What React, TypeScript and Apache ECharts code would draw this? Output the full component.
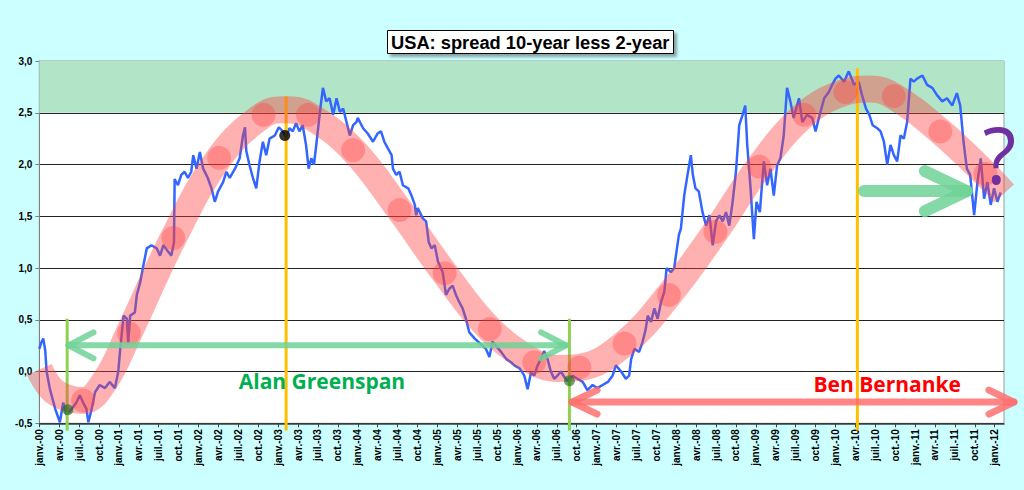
import React, { useEffect, useRef } from "react";
import * as echarts from "echarts";

// Quarterly tick labels (month index 0 = janv. 2000, step 3 months)
const tickLabels = [
  "janv.-00", "avr.-00", "juil.-00", "oct.-00",
  "janv.-01", "avr.-01", "juil.-01", "oct.-01",
  "janv.-02", "avr.-02", "juil.-02", "oct.-02",
  "janv.-03", "avr.-03", "juil.-03", "oct.-03",
  "janv.-04", "avr.-04", "juil.-04", "oct.-04",
  "janv.-05", "avr.-05", "juil.-05", "oct.-05",
  "janv.-06", "avr.-06", "juil.-06", "oct.-06",
  "janv.-07", "avr.-07", "juil.-07", "oct.-07",
  "janv.-08", "avr.-08", "juil.-08", "oct.-08",
  "janv.-09", "avr.-09", "juil.-09", "oct.-09",
  "janv.-10", "avr.-10", "juil.-10", "oct.-10",
  "janv.-11", "avr.-11", "juil.-11", "oct.-11",
  "janv.-12",
];

// 10y - 2y spread (month index since janv. 2000, value in %)
const spreadMonths = [
  0, 0.3, 0.6, 0.9, 1.1, 1.6, 2.4, 3.1, 3.6, 4.1, 4.9, 5.6, 6.1, 6.6, 7.1, 7.4, 7.9, 8.4, 9.1, 9.9,
  10.6, 11.4, 11.9, 12.2, 12.7, 13.2, 13.4, 13.7, 14.4, 14.7, 15.2, 15.7, 16.2, 16.9, 17.7, 18.2, 18.7, 19.4, 19.9, 20.3,
  20.4, 20.9, 21.4, 21.9, 22.4, 22.9, 23.2, 23.7, 24.2, 24.7, 25.4, 25.95, 26.45, 26.95, 27.7, 28.2, 28.7, 29.5, 30.2, 30.7,
  31.0, 31.2, 31.7, 32.2, 32.7, 33.2, 33.7, 34.2, 34.7, 35.5, 36.1, 36.7, 37.2, 37.7, 38.2, 38.7, 39.2, 39.7, 40.2, 40.6,
  41.0, 41.4, 41.8, 42.3, 42.75, 43.25, 43.75, 44.3, 44.8, 45.3, 45.8, 46.3, 46.8, 47.3, 47.8, 48.0, 48.8, 49.5, 50.3, 51.0,
  51.5, 52.0, 52.5, 53.1, 53.3, 53.8, 54.3, 54.8, 55.6, 56.1, 56.6, 56.8, 57.05, 57.8, 58.3, 58.7, 59.1, 59.6, 60.1, 60.8,
  61.3, 61.8, 62.3, 62.8, 63.3, 63.8, 64.3, 64.8, 65.6, 66.1, 66.8, 67.3, 67.85, 68.3, 68.8, 69.6, 70.4, 71.1, 71.6, 72.4,
  73.1, 73.6, 74.1, 74.6, 75.1, 75.6, 76.1, 76.6, 77.1, 77.6, 78.1, 78.6, 79.1, 79.6, 80.4, 81.1, 81.9, 82.6, 83.4, 84.1,
  84.9, 85.7, 86.4, 86.9, 87.7, 88.4, 88.9, 89.2, 89.7, 90.4, 90.9, 91.4, 91.7, 92.2, 92.7, 93.2, 93.7, 94.2, 94.55, 95.2,
  95.7, 95.95, 96.4, 96.7, 97.2, 97.7, 98.2, 98.5, 98.9, 99.4, 99.96, 100.5, 101.0, 101.5, 102.0, 102.5, 103.0, 103.5, 104.0, 104.5,
  105.0, 105.5, 106.0, 106.4, 106.7, 107.2, 107.7, 108.1, 108.6, 109.2, 109.7, 110.2, 110.7, 111.2, 111.7, 112.2, 112.7, 113.2, 113.7, 114.5,
  115.0, 115.7, 116.5, 117.0, 117.5, 118.3, 119.0, 119.5, 120.0, 120.5, 121.3, 122.0, 122.8, 123.5, 124.0, 124.6, 125.1, 125.6, 126.3, 126.8,
  127.3, 127.8, 128.3, 128.8, 129.3, 129.8, 130.3, 130.8, 131.3, 131.8, 132.3, 133.1, 133.8, 134.6, 135.3, 136.1, 136.8, 137.6, 138.3, 138.8,
  139.3, 139.8, 140.3, 140.9, 141.4, 141.9, 142.4, 142.9, 143.4, 143.9, 144.4, 144.9,
];
const spreadValues = [
  0.22, 0.28, 0.32, 0.2, 0.0, -0.17, -0.36, -0.49, -0.3, -0.42, -0.36, -0.3, -0.23, -0.3, -0.36, -0.49, -0.36, -0.2, -0.13, -0.16,
  -0.1, -0.16, 0.0, 0.22, 0.54, 0.51, 0.28, 0.54, 0.57, 0.74, 0.86, 1.03, 1.19, 1.22, 1.19, 1.12, 1.22, 1.16, 1.12, 1.25,
  1.86, 1.8, 1.9, 1.93, 1.87, 1.93, 2.09, 1.96, 2.12, 1.96, 1.87, 1.77, 1.64, 1.74, 1.83, 1.93, 1.87, 1.96, 2.06, 2.28,
  2.36, 2.13, 1.99, 1.87, 1.77, 2.03, 2.22, 2.09, 2.25, 2.28, 2.36, 2.32, 2.27, 2.35, 2.32, 2.4, 2.32, 2.38, 2.19, 1.96,
  2.06, 2.0, 2.22, 2.51, 2.74, 2.61, 2.64, 2.48, 2.64, 2.51, 2.54, 2.41, 2.28, 2.38, 2.41, 2.45, 2.35, 2.3, 2.22, 2.3,
  2.32, 2.22, 2.16, 2.09, 1.96, 1.9, 1.93, 1.8, 1.77, 1.7, 1.61, 1.51, 1.58, 1.48, 1.45, 1.25, 1.19, 1.22, 1.06, 0.96,
  0.74, 0.8, 0.83, 0.74, 0.67, 0.61, 0.51, 0.38, 0.32, 0.29, 0.25, 0.22, 0.14, 0.29, 0.25, 0.19, 0.12, 0.09, 0.06, 0.03,
  -0.04, -0.17, -0.01, -0.04, 0.06, 0.12, 0.2, 0.12, 0.0, -0.07, -0.04, 0.0, -0.05, -0.09, -0.04, -0.07, -0.1, -0.18, -0.13, -0.16,
  -0.13, -0.1, -0.04, 0.06, 0.0, -0.07, -0.04, 0.12, 0.22, 0.19, 0.28, 0.41, 0.54, 0.48, 0.61, 0.51, 0.67, 0.77, 1.0, 0.96,
  1.0, 1.12, 1.32, 1.38, 1.7, 1.9, 2.09, 1.9, 1.77, 1.74, 1.54, 1.41, 1.51, 1.22, 1.45, 1.51, 1.45, 1.54, 1.41, 1.64,
  1.93, 2.38, 2.48, 2.57, 2.19, 1.77, 1.28, 1.64, 1.54, 2.03, 1.8, 1.96, 1.7, 1.99, 2.06, 2.28, 2.74, 2.61, 2.45, 2.64,
  2.41, 2.48, 2.45, 2.32, 2.45, 2.64, 2.7, 2.77, 2.83, 2.86, 2.8, 2.9, 2.77, 2.8, 2.67, 2.54, 2.48, 2.38, 2.35, 2.32,
  2.22, 2.0, 2.19, 2.09, 2.03, 2.28, 2.25, 2.41, 2.83, 2.8, 2.83, 2.86, 2.77, 2.74, 2.67, 2.61, 2.64, 2.57, 2.69, 2.57,
  2.22, 1.96, 1.9, 1.51, 1.83, 2.06, 1.67, 1.83, 1.61, 1.77, 1.64, 1.73,
];

// Hand-drawn "cycle" band (centre line) and its dots
const bandMonths = [0, 2.4, 6.6, 10, 13.5, 20.2, 27.1, 33.8, 37.2, 40.5, 47.3, 54.3, 61.1, 67.9, 74.6, 78, 81.4, 88.2, 94.9, 101.9, 108.5, 115.3, 121.5, 125.2, 128.8, 135.8, 142.6, 145.4];
const bandValues = [0.02, -0.2, -0.28, -0.08, 0.37, 1.29, 2.065, 2.48, 2.53, 2.48, 2.14, 1.56, 0.95, 0.41, 0.09, 0.03, 0.04, 0.27, 0.74, 1.35, 1.98, 2.48, 2.7, 2.73, 2.66, 2.32, 1.91, 1.72];
const dotMonths = [6.6, 13.5, 20.2, 27.1, 33.8, 40.5, 47.3, 54.3, 61.1, 67.9, 74.6, 81.4, 88.2, 94.9, 101.9, 108.5, 115.3, 121.5, 128.8, 135.8, 142.6];
const dotValues = [-0.28, 0.37, 1.29, 2.065, 2.48, 2.48, 2.14, 1.56, 0.95, 0.41, 0.09, 0.04, 0.27, 0.74, 1.35, 1.98, 2.48, 2.7, 2.66, 2.32, 1.91];

// Point markers
const blackDotMonths = [37.0];
const blackDotValues = [2.28];
const greenDotMonths = [4.3, 79.9];
const greenDotValues = [-0.37, -0.09];

// Annotation lines (month, top value) - they run down just below the axis
const orangeLineMonths = [37.2, 123.3];
const orangeLineTops = [2.66, 2.93];
const greenLineMonths = [4.2, 79.9];
const greenLineTops = [0.51, 0.51];
const lineBottom = -0.57;

// Arrows (month range, value)
const greenArrow = { from: 4.4, to: 79.4, value: 0.253 };
const redArrow = { from: 80.3, to: 146.9, value: -0.295 };
const rightArrow = { from: 124.3, to: 139.8, value: 1.743 };

// Labels
const greenspanLabel = { text: "Alan Greenspan", month: 42.6, value: -0.09 };
const bernankeLabel = { text: "Ben Bernanke", month: 127.8, value: -0.12 };
const questionLabel = { text: "?", month: 144.7, value: 2.1 };

const TITLE = "USA: spread 10-year less 2-year";

const zip = (a: number[], b: number[]) => a.map((m, i) => [m, b[i]]);

export default function App() {
  const ref = useRef<HTMLDivElement | null>(null);

  useEffect(() => {
    document.body.style.margin = "0";
    if (!ref.current) return;
    const chart = echarts.init(ref.current, undefined, { renderer: "svg" });

    const option: any = {
      animation: false,
      backgroundColor: "#CCFFFF",
      title: {
        text: TITLE,
        left: 387,
        top: 30,
        padding: [2, 4, 2, 4],
        backgroundColor: "#ffffff",
        borderColor: "#000000",
        borderWidth: 1,
        shadowColor: "rgba(0,0,0,0.35)",
        shadowBlur: 3,
        shadowOffsetX: 3,
        shadowOffsetY: 3,
        textStyle: {
          fontFamily: "Arial, 'Liberation Sans', sans-serif",
          fontWeight: "bold",
          fontSize: 18.3,
          color: "#000",
          lineHeight: 20,
        },
      },
      grid: {
        left: 39.3,
        right: 20,
        top: 61,
        bottom: 66.7,
        show: true,
        backgroundColor: "#ffffff",
        borderColor: "#999999",
        borderWidth: 1,
      },
      xAxis: {
        type: "value",
        min: 0,
        max: 145.4,
        interval: 3,
        splitLine: { show: false },
        axisLine: { show: true, onZero: false, lineStyle: { color: "#404040", width: 1.5 } },
        axisTick: { show: true, length: 4, lineStyle: { color: "#404040" } },
        axisLabel: {
          rotate: 90,
          margin: 6,
          fontSize: 10,
          fontWeight: "bold",
          fontFamily: "Arial, 'Liberation Sans', sans-serif",
          color: "#000",
          showMaxLabel: false,
          formatter: (v: number) => {
            const i = Math.round(v / 3);
            return Math.abs(v - i * 3) < 1e-6 && tickLabels[i] ? tickLabels[i] : "";
          },
        },
      },
      yAxis: {
        type: "value",
        min: -0.5,
        max: 3,
        interval: 0.5,
        axisLine: { show: true, lineStyle: { color: "#808080", width: 1 } },
        axisTick: { show: true, length: 4, lineStyle: { color: "#808080" } },
        splitLine: { show: true, lineStyle: { color: "#222222", width: 1 } },
        axisLabel: {
          margin: 7,
          fontSize: 10,
          fontWeight: "bold",
          fontFamily: "Arial, 'Liberation Sans', sans-serif",
          color: "#000",
          formatter: (v: number) => v.toFixed(1).replace(".", ","),
        },
      },
      series: [
        {
          name: "spread",
          type: "line",
          data: zip(spreadMonths, spreadValues),
          showSymbol: false,
          silent: true,
          z: 2,
          lineStyle: { color: "#3366FF", width: 2.5 },
          markArea: {
            silent: true,
            itemStyle: { color: "#B2E5C8" },
            data: [[{ yAxis: 2.5 }, { yAxis: 3 }]],
          },
        },
        {
          name: "band",
          type: "line",
          data: zip(bandMonths, bandValues),
          smooth: 0.4,
          showSymbol: false,
          silent: true,
          z: 5,
          lineStyle: { color: "rgba(255,60,60,0.4)", width: 27, cap: "butt" },
        },
        {
          name: "dots",
          type: "scatter",
          data: zip(dotMonths, dotValues),
          symbolSize: 24,
          silent: true,
          z: 6,
          itemStyle: { color: "rgba(255,60,60,0.42)" },
        },
        {
          name: "markers",
          type: "scatter",
          silent: true,
          z: 7,
          symbolSize: 11,
          data: [
            ...zip(blackDotMonths, blackDotValues).map((p) => ({ value: p, itemStyle: { color: "#000" } })),
            ...zip(greenDotMonths, greenDotValues).map((p) => ({ value: p, itemStyle: { color: "rgba(30,110,30,0.8)" } })),
          ],
        },
      ],
    };

    chart.setOption(option);

    const px = (m: number, v: number) => chart.convertToPixel({ gridIndex: 0 }, [m, v]) as number[];

    const graphics: any[] = [];
    const vline = (m: number, top: number, color: string) => {
      const a = px(m, top);
      const b = px(m, lineBottom);
      graphics.push({
        type: "line",
        z: 4,
        silent: true,
        shape: { x1: a[0], y1: a[1], x2: b[0], y2: b[1] },
        style: { stroke: color, lineWidth: 3 },
      });
    };
    orangeLineMonths.forEach((m, i) => vline(m, orangeLineTops[i], "#FFC000"));
    greenLineMonths.forEach((m, i) => vline(m, greenLineTops[i], "#92D050"));

    const arrow = (
      from: number, to: number, value: number, color: string, width: number,
      headDx: number, headDy: number, both: boolean
    ) => {
      const a = px(from, value);
      const b = px(to, value);
      const style = { stroke: color, lineWidth: width, lineCap: "round", lineJoin: "round", fill: null };
      graphics.push({ type: "line", z: 8, silent: true, shape: { x1: a[0], y1: a[1], x2: b[0], y2: b[1] }, style });
      graphics.push({
        type: "polyline", z: 8, silent: true,
        shape: { points: [[b[0] - headDx, b[1] - headDy], [b[0], b[1]], [b[0] - headDx, b[1] + headDy]] },
        style,
      });
      if (both) {
        graphics.push({
          type: "polyline", z: 8, silent: true,
          shape: { points: [[a[0] + headDx, a[1] - headDy], [a[0], a[1]], [a[0] + headDx, a[1] + headDy]] },
          style,
        });
      }
    };
    arrow(greenArrow.from, greenArrow.to, greenArrow.value, "rgba(110,210,150,0.85)", 6, 25, 13, true);
    arrow(redArrow.from, redArrow.to, redArrow.value, "rgba(255,110,110,0.85)", 7, 25, 12, true);
    arrow(rightArrow.from, rightArrow.to, rightArrow.value, "rgba(110,210,150,0.85)", 12, 42, 20, false);

    const label = (l: { text: string; month: number; value: number }, color: string, size: number, weight: string) => {
      const p = px(l.month, l.value);
      graphics.push({
        type: "text",
        z: 9,
        silent: true,
        x: p[0],
        y: p[1],
        style: {
          text: l.text,
          fill: color,
          font: `${weight} ${size}px 'Open Sans', sans-serif`,
          textAlign: "center",
          textVerticalAlign: "middle",
        },
      });
    };
    label(greenspanLabel, "#00B050", 21, "bold");
    label(bernankeLabel, "#FF0000", 21, "bold");
    label(questionLabel, "#7030A0", 78, "normal");

    chart.setOption({ graphic: graphics });

    return () => {
      chart.dispose();
    };
  }, []);

  return (
    <div
      ref={ref}
      style={{ width: 1024, height: 490, position: "absolute", left: 0, top: 0 }}
    />
  );
}
